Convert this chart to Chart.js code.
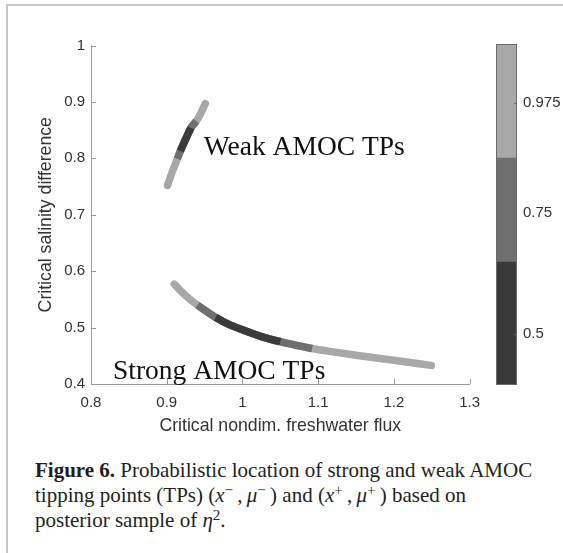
<!DOCTYPE html>
<html>
<head>
<meta charset="utf-8">
<script src="https://cdn.jsdelivr.net/npm/chart.js@4.4.1/dist/chart.umd.min.js"></script>
<style>
  html, body { margin: 0; padding: 0; background: #fff; }
  body { width: 563px; height: 553px; position: relative; overflow: hidden; }
  #frame { position: absolute; left: 6px; top: 4px; width: 560px; height: 548px;
           border-top: 2px solid #c8c8c8; border-left: 2px solid #c8c8c8; }
  #main { position: absolute; left: 0; top: 0; }
  #bar  { position: absolute; left: 496px; top: 0; }
  #caption { position: absolute; left: 35px; top: 458px; width: 526px; white-space: nowrap;
             font-family: 'Liberation Serif', serif; font-size: 21px; line-height: 25px; color: #231f20; }
  #caption sup { font-size: 0.72em; line-height: 0; vertical-align: 0.48em; }
  #caption .m { margin-left: 0.12em; }
</style>
</head>
<body>
<div id="frame"></div>
<canvas id="main" width="490" height="440"></canvas>
<canvas id="bar" width="67" height="440"></canvas>
<div id="caption"><b>Figure 6.</b> Probabilistic location of strong and weak AMOC<br>tipping points (TPs) (<i>x</i><sup>&minus;</sup>&thinsp;,&thinsp;<i>&mu;</i><sup>&minus;</sup>&thinsp;) and (<i>x</i><sup>+</sup>&thinsp;,&thinsp;<i>&mu;</i><sup>+</sup>&thinsp;) based on<br>posterior sample of <i>&eta;</i><sup>2</sup>.</div>

<script>
/* Fig. 6 — strong / weak AMOC tipping point locations, shaded by credible level */

var xTicks      = [0.8, 0.9, 1, 1.1, 1.2, 1.3];
var xTickLabels = ['0.8', '0.9', '1', '1.1', '1.2', '1.3'];
var yTicks      = [0.4, 0.5, 0.6, 0.7, 0.8, 0.9, 1];
var yTickLabels = ['0.4', '0.5', '0.6', '0.7', '0.8', '0.9', '1'];

// weak AMOC tipping points (x+, mu+)
var weakX     = [0.901, 0.907, 0.914, 0.918, 0.925, 0.932, 0.939, 0.945, 0.951];
var weakY     = [0.752, 0.775, 0.799, 0.813, 0.834, 0.854, 0.866, 0.880, 0.897];
var weakLevel = [0.975, 0.975, 0.75, 0.5, 0.5, 0.5, 0.75, 0.975, 0.975];

// strong AMOC tipping points (x-, mu-)
var strongX     = [0.910, 0.920, 0.930, 0.9406, 0.952, 0.9647, 0.980, 1.000, 1.025, 1.050, 1.070, 1.092, 1.120, 1.150, 1.200, 1.2495];
var strongY     = [0.577, 0.563, 0.551, 0.540, 0.529, 0.518, 0.507, 0.496, 0.484, 0.475, 0.469, 0.463, 0.457, 0.451, 0.442, 0.433];
var strongLevel = [0.975, 0.975, 0.975, 0.75, 0.75, 0.5, 0.5, 0.5, 0.5, 0.5, 0.75, 0.75, 0.975, 0.975, 0.975, 0.975];

// colour bar
var cbLevels     = [0.5, 0.75, 0.975];
var cbEdges      = [0.395, 0.648, 0.862, 1.097];
var cbColors     = ['#3a3a3a', '#6f6f6f', '#a8a8a8'];
var cbTickLabels = ['0.5', '0.75', '0.975'];

var tickFont  = { family: 'Liberation Sans', size: 15 };
var titleFont = { family: 'Liberation Sans', size: 17.7 };
var axisGrey  = '#9a9a9a';
var textGrey  = '#333333';

function levelPoints(xs, ys, levels, maxLevel) {
  var pts = [];
  for (var i = 0; i < xs.length; i++) {
    if (levels[i] <= maxLevel) pts.push({ x: xs[i], y: ys[i] });
  }
  return pts;
}

var datasets = [];
[weakX, strongX].forEach(function(xs, c) {
  var ys = c === 0 ? weakY : strongY;
  var lv = c === 0 ? weakLevel : strongLevel;
  for (var k = cbLevels.length - 1; k >= 0; k--) {
    datasets.push({
      data: levelPoints(xs, ys, lv, cbLevels[k]),
      showLine: true,
      borderColor: cbColors[k],
      borderWidth: 7.5,
      borderCapStyle: k === cbLevels.length - 1 ? 'round' : 'butt',
      borderJoinStyle: 'round',
      cubicInterpolationMode: 'monotone',
      pointRadius: 0,
      fill: false,
      order: k + 1
    });
  }
});

/* ─── plugins ─── */

var inwardTicks = {
  id: 'inwardTicks',
  afterDraw: function(chart) {
    var ctx = chart.ctx, a = chart.chartArea;
    var sx = chart.scales.x, sy = chart.scales.y;
    ctx.save();
    ctx.strokeStyle = axisGrey;
    ctx.lineWidth = 1;
    sx.ticks.forEach(function(t) {
      var px = Math.round(sx.getPixelForValue(t.value)) + 0.5;
      ctx.beginPath(); ctx.moveTo(px, a.bottom); ctx.lineTo(px, a.bottom - 5); ctx.stroke();
    });
    sy.ticks.forEach(function(t) {
      var py = Math.round(sy.getPixelForValue(t.value)) + 0.5;
      ctx.beginPath(); ctx.moveTo(a.left, py); ctx.lineTo(a.left + 5, py); ctx.stroke();
    });
    ctx.restore();
  }
};

var curveLabels = {
  id: 'curveLabels',
  afterDatasetsDraw: function(chart) {
    var ctx = chart.ctx, sx = chart.scales.x, sy = chart.scales.y;
    ctx.save();
    ctx.font = '27.5px "Liberation Serif"';
    ctx.fillStyle = '#111';
    ctx.textBaseline = 'alphabetic';
    ctx.textAlign = 'left';
    ctx.fillText('Weak AMOC TPs', sx.getPixelForValue(0.949), sy.getPixelForValue(0.806));
    ctx.fillText('Strong AMOC TPs', sx.getPixelForValue(0.829), sy.getPixelForValue(0.409));
    ctx.restore();
  }
};

var cbFrame = {
  id: 'cbFrame',
  afterDatasetsDraw: function(chart) {
    var ctx = chart.ctx, a = chart.chartArea, sy = chart.scales.y;
    ctx.save();
    ctx.strokeStyle = '#6a6a6a';
    ctx.lineWidth = 1;
    ctx.strokeRect(a.left + 0.5, a.top + 0.5, a.right - a.left - 1, a.bottom - a.top - 1);
    sy.ticks.forEach(function(t) {
      var py = Math.round(sy.getPixelForValue(t.value)) + 0.5;
      ctx.beginPath(); ctx.moveTo(a.right, py); ctx.lineTo(a.right - 3, py); ctx.stroke();
    });
    ctx.restore();
  }
};

/* ─── main plot ─── */

new Chart(document.getElementById('main'), {
  type: 'scatter',
  data: { datasets: datasets },
  options: {
    responsive: false,
    animation: false,
    layout: { padding: { top: 45.5, right: 17, bottom: 0, left: 0 } },
    plugins: { legend: { display: false }, tooltip: { enabled: false } },
    scales: {
      x: {
        type: 'linear', min: 0.8, max: 1.3,
        grid: { display: false, drawTicks: false },
        border: { display: true, color: axisGrey, width: 1 },
        afterBuildTicks: function(s) { s.ticks = xTicks.map(function(v) { return { value: v }; }); },
        afterFit: function(s) { s.height = 56; },
        ticks: {
          color: textGrey, font: tickFont, padding: 10, maxRotation: 0, autoSkip: false,
          callback: function(v, i) { return xTickLabels[i]; }
        },
        title: { display: true, text: 'Critical nondim. freshwater flux', color: textGrey, font: titleFont,
                 padding: { top: 0, bottom: 3 } }
      },
      y: {
        type: 'linear', min: 0.4, max: 1,
        grid: { display: false, drawTicks: false },
        border: { display: true, color: axisGrey, width: 1 },
        afterBuildTicks: function(s) { s.ticks = yTicks.map(function(v) { return { value: v }; }); },
        afterFit: function(s) { s.width = 91; },
        ticks: {
          color: textGrey, font: tickFont, padding: 6, autoSkip: false,
          callback: function(v, i) { return yTickLabels[i]; }
        },
        title: { display: true, text: 'Critical salinity difference', color: textGrey, font: titleFont,
                 padding: { top: 35, bottom: 0 } }
      }
    }
  },
  plugins: [inwardTicks, curveLabels]
});

/* ─── colour bar ─── */

new Chart(document.getElementById('bar'), {
  type: 'bar',
  data: {
    labels: [''],
    datasets: cbLevels.map(function(lv, i) {
      return {
        data: [[cbEdges[i], cbEdges[i + 1]]],
        backgroundColor: cbColors[i],
        borderWidth: 0,
        barPercentage: 1,
        categoryPercentage: 1,
        grouped: false
      };
    })
  },
  options: {
    responsive: false,
    animation: false,
    layout: { padding: { top: 44, bottom: 55, left: 0, right: 0 } },
    plugins: { legend: { display: false }, tooltip: { enabled: false } },
    scales: {
      x: { display: false },
      y: {
        position: 'right', min: cbEdges[0], max: cbEdges[cbEdges.length - 1],
        grid: { display: false, drawTicks: false },
        border: { display: false },
        afterBuildTicks: function(s) { s.ticks = cbLevels.map(function(v) { return { value: v }; }); },
        afterFit: function(s) { s.width = 46; },
        ticks: {
          color: textGrey, font: tickFont, padding: 6, autoSkip: false,
          callback: function(v, i) { return cbTickLabels[i]; }
        }
      }
    }
  },
  plugins: [cbFrame]
});
</script>
</body>
</html>
